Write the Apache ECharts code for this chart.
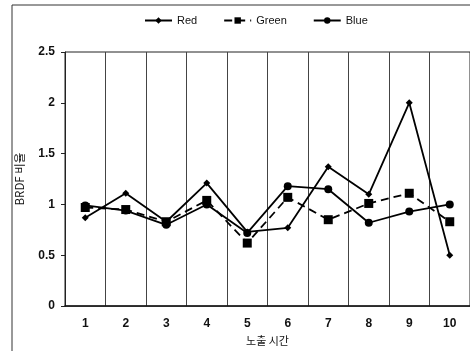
<!DOCTYPE html>
<html><head><meta charset="utf-8">
<script src="https://cdn.jsdelivr.net/npm/echarts@6/dist/echarts.min.js"></script>
<style>html,body{margin:0;padding:0;background:#fff}#c{width:470px;height:351px}</style>
</head><body><div id="c"></div>
<script>
const categories = ['1','2','3','4','5','6','7','8','9','10'];
const redValues   = [0.87, 1.11, 0.83, 1.21, 0.73, 0.77, 1.37, 1.10, 2.00, 0.50];
const greenValues = [0.97, 0.95, 0.83, 1.04, 0.62, 1.07, 0.85, 1.01, 1.11, 0.83];
const blueValues  = [0.99, 0.94, 0.80, 1.00, 0.72, 1.18, 1.15, 0.82, 0.93, 1.00];
const yTicks = [0, 0.5, 1, 1.5, 2, 2.5];

const chart = echarts.init(document.getElementById('c'), null, {renderer:'canvas'});
const font = 'Liberation Sans, Arial, sans-serif';
chart.setOption({
  animation:false,
  backgroundColor:'#fff',
  graphic:[
    {type:'polyline', shape:{points:[[12,351],[12,5],[470,5]]}, style:{stroke:'#333', lineWidth:1, fill:null}, silent:true}
  ],
  legend:{
    top:10, left:139, itemWidth:27, itemHeight:8, itemGap:26,
    textStyle:{fontFamily:font, fontSize:11, color:'#111'},
    data:['Red','Green','Blue']
  },
  grid:{left:65, top:52, right:-1, bottom:42, show:true, borderColor:'#222', borderWidth:1},
  xAxis:{
    type:'category', data:categories, boundaryGap:true,
    name:'노출 시간', nameLocation:'middle', nameGap:25,
    nameTextStyle:{fontFamily:'Noto Sans CJK KR', fontSize:11, color:'#111'},
    axisLine:{lineStyle:{color:'#111', width:1.5}},
    axisTick:{show:false},
    axisLabel:{fontFamily:font, fontSize:12, fontWeight:'bold', color:'#111', margin:12},
    splitLine:{show:true, interval:0, lineStyle:{color:'#444', width:1}}
  },
  yAxis:{
    type:'value', min:0, max:2.5, interval:0.5,
    name:'BRDF 비율', nameLocation:'middle', nameGap:40, nameRotate:90,
    nameTextStyle:{fontFamily:'Noto Sans CJK KR', fontSize:11.5, color:'#111'},
    axisLine:{show:true, lineStyle:{color:'#222', width:1}},
    axisTick:{show:true, inside:false, length:4, lineStyle:{color:'#222'}},
    axisLabel:{fontFamily:font, fontSize:12, fontWeight:'bold', color:'#111', margin:10,
      formatter:v=>yTicks.includes(v)?String(v):''},
    splitLine:{show:false}
  },
  series:[
    {name:'Red', type:'line', data:redValues, symbol:'diamond', symbolSize:7,
      lineStyle:{color:'#000', width:1.8}, itemStyle:{color:'#000'}},
    {name:'Green', type:'line', data:greenValues, symbol:'rect', symbolSize:9,
      lineStyle:{color:'#000', width:1.8, type:[8,5]}, itemStyle:{color:'#000'}},
    {name:'Blue', type:'line', data:blueValues, symbol:'circle', symbolSize:8,
      lineStyle:{color:'#000', width:1.8}, itemStyle:{color:'#000'}}
  ]
});
</script></body></html>
